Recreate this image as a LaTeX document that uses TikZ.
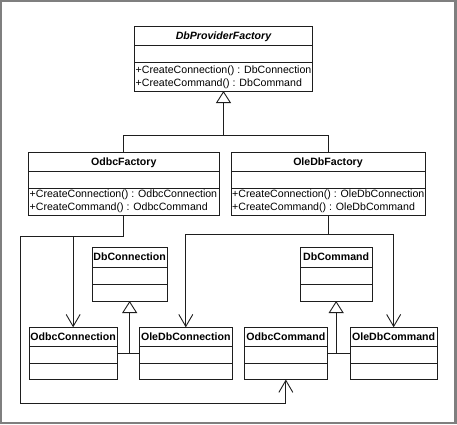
\documentclass[tikz,border=0pt]{standalone}
\usepackage{fontspec}
\setmainfont{Liberation Sans}
\usetikzlibrary{arrows.meta}
\definecolor{linec}{HTML}{1E1E1E}
\definecolor{framec}{HTML}{7F7F7F}
\tikzset{
 clsbox/.style={draw=linec, line width=0.9pt, inner sep=0pt, outer sep=0pt, fill=white},
 divider/.style={draw=linec, line width=0.9pt},
 ctitle/.style={anchor=base, inner sep=0pt, font=\fontsize{10.6}{13}\selectfont\bfseries},
 opline/.style={anchor=base west, inner sep=0pt, font=\fontsize{10.6}{13}\selectfont},
 gen/.style={draw=linec, line width=1.1pt, -{Triangle[open, length=12pt, width=15pt, line width=0.9pt]}},
 dep/.style={draw=linec, line width=0.9pt, -{Straight Barb[length=12pt, width=14pt, line width=0.9pt]}},
 link/.style={draw=linec, line width=1.0pt},
}
% #1 name, #2 x1, #3 y1, #4 x2, #5 y2, #6 divider 1, #7 divider 2, #8 title
\newcommand\myclassbox[8]{%
  \node[clsbox, minimum width={#4-#2}, minimum height={#5-#3}] (#1) at ({(#2+#4)/2},{(#3+#5)/2}) {};
  \draw[divider] (#2,#6) -- (#4,#6);
  \draw[divider] (#2,#7) -- (#4,#7);
  \node[ctitle] (#1-title) at ({(#2+#4)/2},{#3+13.3}) {#8};
}
\begin{document}
\begin{tikzpicture}[x=1pt, y=-1pt]
\useasboundingbox (0,0) rectangle (457,424);
\fill[white] (0,0) rectangle (457,424);
\draw[framec, line width=2.4pt] (1.2,1.2) rectangle (455.6,422.8);

% classes
\myclassbox{dbpf}{134.5}{26}{312.5}{91}{45}{62.5}{\itshape DbProviderFactory}
\node[opline] (dbpf-op1) at (135.5,73) {+CreateConnection() : DbConnection};
\node[opline] (dbpf-op2) at (135.5,86) {+CreateCommand() : DbCommand};

\myclassbox{odbcF}{28.5}{152}{219}{215}{171}{188}{OdbcFactory}
\node[opline] (odbcF-op1) at (29.5,197.5) {+CreateConnection() : OdbcConnection};
\node[opline] (odbcF-op2) at (29.5,210.5) {+CreateCommand() : OdbcCommand};

\myclassbox{oledbF}{231}{152}{425}{215}{171}{188}{OleDbFactory}
\node[opline] (oledbF-op1) at (232,197.5) {+CreateConnection() : OleDbConnection};
\node[opline] (oledbF-op2) at (232,210.5) {+CreateCommand() : OleDbCommand};

\myclassbox{dbConn}{92}{247.5}{167.3}{301}{267.3}{284}{DbConnection}
\myclassbox{dbCmd}{300.3}{247.5}{372}{301}{267.3}{284}{DbCommand}

\myclassbox{odbcConn}{29}{327.3}{117.3}{379.5}{346.7}{363.3}{OdbcConnection}
\myclassbox{oledbConn}{139.3}{327.3}{232.3}{379.5}{346.7}{363.3}{OleDbConnection}
\myclassbox{odbcCmd}{244.7}{327.3}{327}{379.5}{346.7}{363.3}{OdbcCommand}
\myclassbox{oledbCmd}{350.3}{327.3}{437}{379.5}{346.7}{363.3}{OleDbCommand}

% generalization: factories
\coordinate (gTop) at (dbpf.south |- 0,135.7);
\draw[link] (odbcF.north) |- (gTop);
\draw[link] (oledbF.north) |- (gTop);
\draw[gen] (gTop) -- (dbpf.south);

% generalization: connections
\coordinate (gConn) at (dbConn.south |- odbcConn.east);
\draw[link] (odbcConn.east) -- (oledbConn.west);
\draw[gen] (gConn) -- (dbConn.south);

% generalization: commands
\coordinate (gCmd) at (dbCmd.south |- odbcCmd.east);
\draw[link] (odbcCmd.east) -- (oledbCmd.west);
\draw[gen] (gCmd) -- (dbCmd.south);

% dependencies from OdbcFactory
\coordinate (jL) at (odbcF.south |- 0,236);
\coordinate (cL) at (20,236);
\coordinate (cB) at (20,403.3);
\draw[link] (odbcF.south) -- (jL);
\draw[dep] (jL) -| (odbcConn.north);
\draw[dep] (jL) -- (cL) -- (cB) -| (odbcCmd.south);

% dependencies from OleDbFactory
\coordinate (jR) at (oledbF.south |- 0,234);
\draw[link] (oledbF.south) -- (jR);
\draw[dep] (jR) -| (oledbConn.north);
\draw[dep] (jR) -| (oledbCmd.north);
\end{tikzpicture}
\end{document}
